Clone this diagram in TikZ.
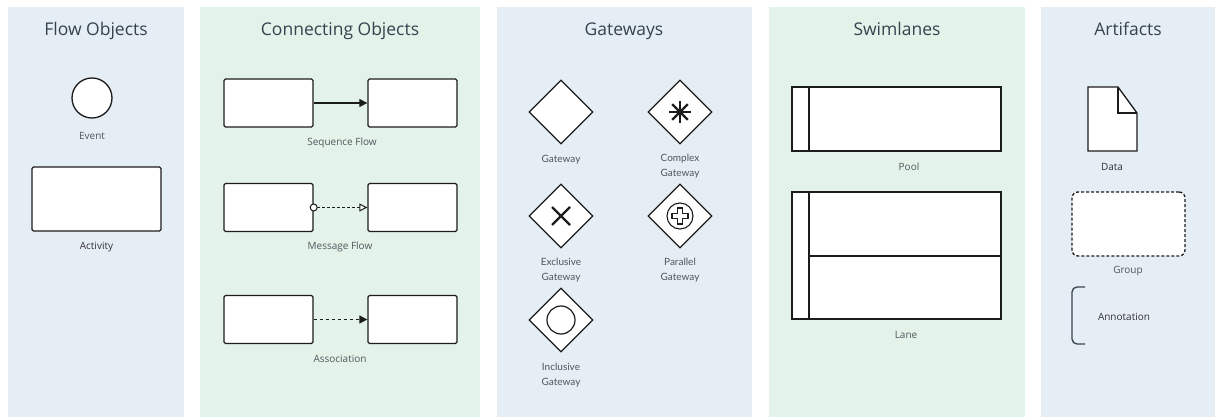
\documentclass[tikz,border=0pt]{standalone}
\usepackage{fontspec}
\setmainfont{Open Sans}
\newfontfamily\latofont{Lato}
\usepackage{tikz}
\usetikzlibrary{arrows.meta}
\usetikzlibrary{shapes.geometric}
\usetikzlibrary{positioning}
\usetikzlibrary{calc}

\definecolor{panelblue}{HTML}{E5EDF5}
\definecolor{panelgreen}{HTML}{E3F3EA}
\definecolor{titlegray}{HTML}{36434F}
\definecolor{labelgray}{HTML}{50565C}
\definecolor{shapeline}{HTML}{1C1C1C}

\begin{document}
\begin{tikzpicture}[x=1pt,y=-1pt,
  title/.style={text=titlegray,font=\fontsize{17.5}{20}\selectfont,inner sep=0,anchor=base},
  lbl/.style={text=labelgray,font=\fontsize{10}{11}\selectfont,inner sep=0},
  glbl/.style={text=labelgray,font=\latofont\fontsize{10}{15}\selectfont,align=center,inner sep=0},
  shp/.style={draw=shapeline,fill=white,line width=1.3pt},
  box/.style={shp,rectangle,rounded corners=1.5pt,inner sep=0,minimum width=89pt,minimum height=48pt},
  gate/.style={shp,diamond,inner sep=0,minimum width=64pt,minimum height=64pt},
  seqflow/.style={draw=shapeline,line width=1.2pt,-{Triangle[length=8pt,width=8pt]}},
  msgflow/.style={draw=shapeline,line width=1.1pt,densely dashed,{Circle[open,fill=white,length=8pt,width=8pt,line width=1pt,sep=-4pt]}-{Triangle[open,fill=white,length=8pt,width=8pt,line width=1pt]}},
  assoc/.style={draw=shapeline,line width=1.2pt,dashed,-{Triangle[length=8pt,width=8pt]}}]
  \useasboundingbox (0,0) rectangle (1215,417);
  %panels
  \fill[panelblue] (8,7) rectangle (184,417);
  \fill[panelgreen] (200,7) rectangle (480,417);
  \fill[panelblue] (497,7) rectangle (752,417);
  \fill[panelgreen] (769,7) rectangle (1025,417);
  \fill[panelblue] (1041,7) rectangle (1215,417);
  \node[title] (tflow) at (96,36) {Flow Objects};
  \node[title] (tconn) at (340,36) {Connecting Objects};
  \node[title] (tgate) at (624,36) {Gateways};
  \node[title] (tswim) at (897,36) {Swimlanes};
  \node[title] (tart) at (1128,36) {Artifacts};

  %flow objects
  \node[shp,circle,minimum size=40pt,inner sep=0] (ev) at (92,98) {};
  \node[lbl] (evl) at (92,136) {Event};
  \node[shp,rectangle,rounded corners=1.5pt,inner sep=0,minimum width=129pt,minimum height=64pt] (act) at (96.5,199) {};
  \node[lbl,text=black!80] (actl) at (96.5,247) {Activity};

  %connecting objects
  \node[box] (sfa) at (268.5,103) {};
  \node[box] (sfb) at (412.5,103) {};
  \draw[seqflow] (sfa.east) -- (sfb.west);
  \node[lbl] (sfl) at (342,143) {Sequence Flow};
  \node[box] (mfa) at (268.5,207.5) {};
  \node[box] (mfb) at (412.5,207.5) {};
  \draw[msgflow] (mfa.east) -- (mfb.west);
  \node[lbl] (mfl) at (340,247) {Message Flow};
  \node[box] (asa) at (268.5,319.5) {};
  \node[box] (asb) at (412.5,319.5) {};
  \draw[assoc] (asa.east) -- (asb.west);
  \node[lbl] (asl) at (340,359) {Association};

  %gateways
  \node[gate] (gw) at (561,112) {};
  \node[glbl] (gwl) at (561,160) {Gateway};
  \node[gate] (cgw) at (680,112) {};
  \foreach \a in {0,45,90,135}
    \draw[shapeline,line width=2.4pt] ($(cgw)+(\a:11)$) -- ($(cgw)+(\a+180:11)$);
  \node[glbl] (cgwl) at (680,166.5) {Complex\\Gateway};
  \node[gate] (xgw) at (561,216) {};
  \draw[shapeline,line width=2.2pt] ($(xgw)+(-9,-9)$) -- ($(xgw)+(9,9)$) ($(xgw)+(-9,9)$) -- ($(xgw)+(9,-9)$);
  \node[glbl] (xgwl) at (561,270.5) {Exclusive\\Gateway};
  \node[gate] (pgw) at (680,216) {};
  \draw[shapeline,line width=1.1pt] (pgw) circle[radius=13];
  \draw[shapeline,line width=1.1pt] ($(pgw)+(-2.5,-8)$) -- ++(5,0) -- ++(0,5.5) -- ++(5.5,0) -- ++(0,5) -- ++(-5.5,0) -- ++(0,5.5) -- ++(-5,0) -- ++(0,-5.5) -- ++(-5.5,0) -- ++(0,-5) -- ++(5.5,0) -- cycle;
  \node[glbl] (pgwl) at (680,270.5) {Parallel\\Gateway};
  \node[gate] (igw) at (561,320) {};
  \draw[shapeline,line width=1.2pt] (igw) circle[radius=14];
  \node[glbl] (igwl) at (561,375) {Inclusive\\Gateway};

  %swimlanes
  \node[shp,rectangle,inner sep=0,minimum width=209pt,minimum height=64pt] (pool) at (896.5,119) {};
  \draw[shapeline,line width=1.3pt] (809,87) -- (809,151);
  \node[lbl] (pooll) at (909,167) {Pool};
  \node[shp,rectangle,inner sep=0,minimum width=209pt,minimum height=127pt] (lane) at (896.5,255.5) {};
  \draw[shapeline,line width=1.3pt] (809,192) -- (809,319) (809,256) -- (1001,256);
  \node[lbl] (lanel) at (906,335) {Lane};

  %artifacts
  \draw[shp,line join=miter] (1088,87) -- (1118,87) -- (1137,113) -- (1137,151) -- (1088,151) -- cycle;
  \draw[shapeline,line width=1.3pt] (1118,87) -- (1118,113) -- (1137,113);
  \node[lbl,text=black!80] (datal) at (1112,167) {Data};
  \node[shp,rectangle,densely dashed,rounded corners=6pt,inner sep=0,minimum width=113pt,minimum height=64pt] (grp) at (1128.5,224) {};
  \node[lbl] (grpl) at (1128,271) {Group};
  \draw[draw=titlegray,line width=1.3pt,rounded corners=5pt] (1085,287) -- (1072,287) -- (1072,344) -- (1085,344);
  \node[lbl,text=black!80] (annl) at (1124,317) {Annotation};
\end{tikzpicture}
\end{document}
